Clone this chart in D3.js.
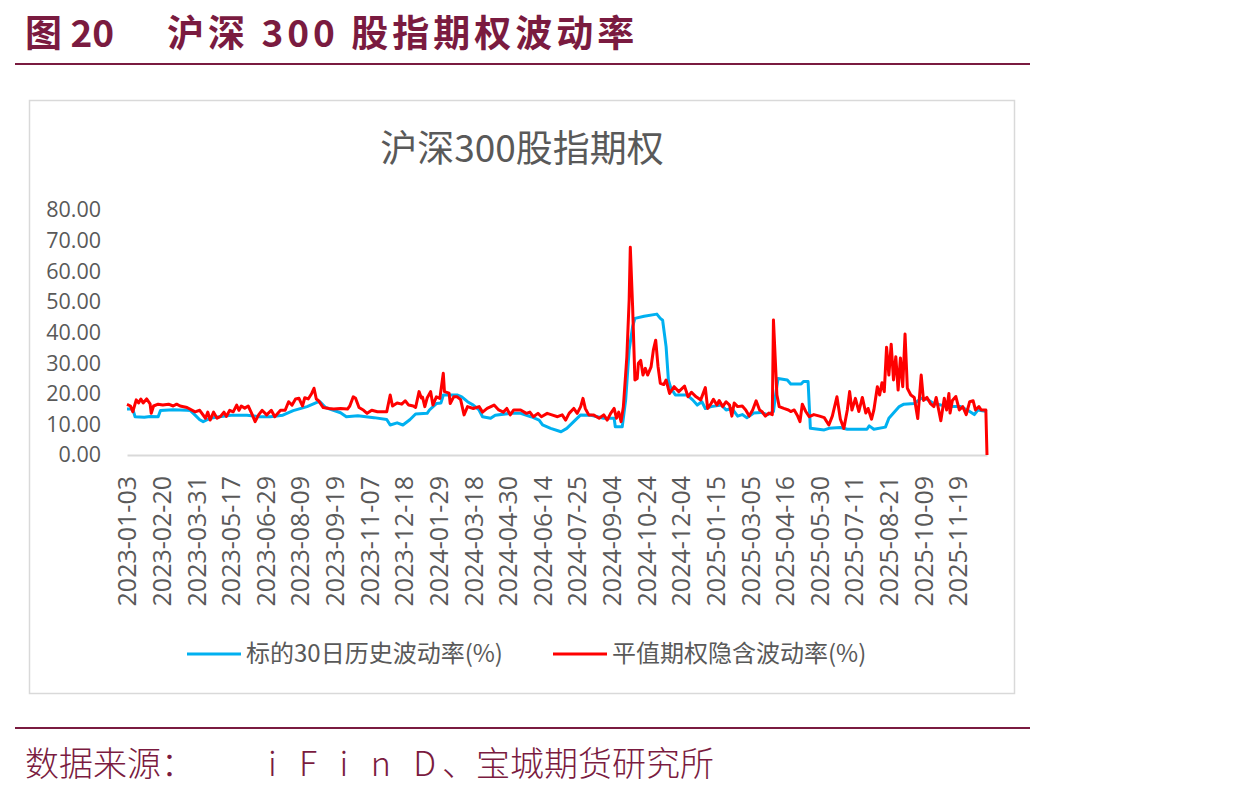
<!DOCTYPE html>
<html>
<head>
<meta charset="utf-8">
<script src="https://cdn.jsdelivr.net/npm/d3@7"></script>
<style>
  body { margin: 0; background: #fff; }
  svg { display: block; }
</style>
</head>
<body>
<svg width="1260" height="796"></svg>
<script>
// x tick labels, one every 30 trading days
const xTickLabels = [
  "2023-01-03", "2023-02-20", "2023-03-31", "2023-05-17", "2023-06-29",
  "2023-08-09", "2023-09-19", "2023-11-07", "2023-12-18", "2024-01-29",
  "2024-03-18", "2024-04-30", "2024-06-14", "2024-07-25", "2024-09-04",
  "2024-10-24", "2024-12-04", "2025-01-15", "2025-03-05", "2025-04-16",
  "2025-05-30", "2025-07-11", "2025-08-21", "2025-10-09", "2025-11-19"
];
const tickStep = 30;
const nDays = 746;
const yTicks = [0, 10, 20, 30, 40, 50, 60, 70, 80];

// [trading day index, value]
const histVol = [
  [0,15],[5,15],[7,12.5],[15,12.3],[20,12.6],[27,12.5],[29,14.5],[40,14.8],[52,14.6],[55,14.5],
  [59,13],[63,11.5],[66,10.9],[72,12],[80,12.5],[90,13],[104,13],[115,12.5],[124,12.5],[135,13],
  [144,14.5],[156,15.8],[164,17.1],[167,17.5],[172,15.5],[185,13.8],[190,12.5],[200,12.8],[214,12.2],
  [225,11.6],[228,9.8],[234,10.5],[239,9.8],[245,11.5],[250,13.4],[260,13.6],[262,14.7],[268,16.8],
  [272,17],[274,19.6],[286,19.6],[290,19],[295,17.4],[300,16.3],[305,14.7],[308,12.5],[315,12],
  [319,13],[332,13.6],[341,13.6],[350,12.5],[357,11.4],[360,9.8],[367,8.7],[376,7.6],[381,8.7],
  [387,10.9],[393,13.1],[402,13],[413,12],[422,12],[423,9.2],[429,9.2],[432,18],[435,34.3],
  [438,41.9],[440,44.6],[448,45.3],[459,46],[462,44.6],[464,44],[467,35.4],[469,24.5],[471,22],
  [475,19.6],[485,19.6],[490,18],[494,16.3],[498,17.4],[501,15.2],[506,15.8],[515,16.3],[519,14.7],
  [524,15.2],[529,12.7],[533,13.2],[537,12.2],[543,13.7],[549,13.9],[555,13.2],[560,14.2],[562,20],
  [564,25],[572,24.5],[575,23.2],[584,23.2],[586,24],[590,24],[592,8.7],[604,8.2],[608,8.7],
  [618,9],[624,8.4],[641,8.4],[643,9.5],[647,8.4],[657,9.1],[660,12],[664,13.7],[669,15.8],
  [673,16.6],[682,16.8],[688,18.5],[693,18.2],[699,16.8],[705,16.3],[714,15.8],[722,15.8],
  [728,14.7],[734,13.2],[737,14.7],[745,14.2]
];

const impliedVol = [
  [0,16.5],[3,16],[5,14.1],[8,18],[10,17],[12,18.3],[14,17],[17,18.3],[20,16.7],[21,13.6],
  [23,16],[27,16.6],[31,16.3],[36,16.6],[40,16],[43,16.6],[46,16],[52,15.5],[59,14.1],[63,14.6],
  [68,12],[70,14],[72,11.4],[75,14],[78,12],[81,12.6],[84,14],[86,12.6],[89,14.6],[92,14.1],
  [95,16.3],[97,14.6],[99,16],[102,15.3],[105,16],[108,13.6],[111,10.9],[114,13.1],[117,14.6],
  [121,13.1],[125,14.6],[128,12.5],[133,14.6],[137,14.6],[140,17.4],[143,16.3],[146,18.3],
  [149,18.5],[152,16],[154,18.7],[157,18.3],[160,20.1],[162,21.8],[164,18.3],[166,17.7],
  [170,15.5],[175,15.2],[179,15],[185,15.2],[191,15],[193,16],[196,19],[198,18.5],[201,15.5],
  [205,14.6],[208,13.6],[212,14.6],[217,14.1],[219,14.1],[225,14.1],[228,19.6],[230,16],[234,17],
  [238,16.6],[241,17.7],[244,16.3],[248,16],[250,15.5],[253,20.7],[255,18.6],[256,18.9],[258,15.8],
  [260,18.6],[263,20.7],[265,16.3],[268,19],[271,18.5],[274,26.7],[275,20.7],[279,20.2],[280,16.8],
  [283,19],[286,19],[289,18.1],[292,13.1],[295,15.8],[300,15.2],[305,15.8],[308,14],[312,15.2],
  [318,16.3],[322,14.7],[326,14],[329,15.2],[332,13.1],[335,14.7],[341,14.7],[346,13.6],[349,14],
  [352,12.5],[356,13.6],[359,12.5],[364,13.6],[368,13.1],[373,12.5],[377,13.1],[380,11.4],
  [383,13.6],[387,15.2],[390,13.6],[393,15.8],[395,18.5],[397,15.2],[400,13.1],[404,13.1],[409,12],
  [413,13.1],[416,11.4],[419,13.6],[422,15.2],[424,12],[426,14],[428,10.9],[430,15.8],[433,32],
  [435,50.6],[436,67.8],[438,48.4],[440,24.5],[442,25],[443,30],[445,30.9],[447,26.1],[449,28.3],
  [451,26.1],[454,28.8],[456,34.3],[458,37.5],[460,29],[462,23.4],[465,23],[467,24.5],[470,20.1],
  [474,22.3],[478,20.7],[483,22.5],[486,19],[489,20.5],[493,19],[497,18],[501,22],[503,15.2],
  [506,16.8],[508,18.2],[511,16.3],[513,17.8],[516,15.8],[519,17.4],[522,16.3],[524,12.7],[526,17],
  [529,15.8],[533,16],[536,14.7],[539,12.7],[542,14.7],[545,17.7],[548,14.7],[550,14.2],[553,12.7],
  [556,13.7],[559,13.2],[560,44.1],[562,27.8],[563,19.6],[565,15.8],[569,15.2],[573,14.7],
  [575,14.2],[578,14.7],[581,12.7],[583,10.9],[585,16.6],[588,14.2],[591,12.5],[595,13.2],
  [600,12.7],[604,12.2],[608,9.8],[611,12.7],[615,19],[618,11.7],[621,8.7],[624,14.7],[626,20.7],
  [628,14.7],[631,18.5],[634,14.2],[637,18.8],[640,13.7],[642,15.2],[645,11.7],[647,14.7],
  [650,22.3],[652,19.6],[654,23.6],[656,20.7],[658,35.2],[660,26.1],[662,36.2],[664,24.5],
  [666,32.1],[668,21.2],[670,31.7],[672,22.3],[674,39.5],[676,21.8],[679,19.6],[682,18.8],
  [685,11.9],[688,26.1],[690,17.8],[693,18.8],[696,16.8],[699,15.8],[701,18.8],[705,11.2],
  [708,18.5],[710,14.7],[712,20.1],[713,13.7],[715,17.8],[718,19.1],[721,14.7],[724,15.8],
  [727,13.2],[730,17.4],[733,17.7],[735,14.7],[738,15.8],[740,14.7],[744,14.7],[745,0]
];

const seriesNames = ["标的30日历史波动率(%)", "平值期权隐含波动率(%)"];
const colors = { hist: "#00B0F0", implied: "#FF0000" };
const maroon = "#7A1B40";
const grey = "#595959";
const cjk = "'Noto Sans CJK SC', sans-serif";

const svg = d3.select("svg");

// header and footer
svg.append("text").attr("x", 25).attr("y", 47)
  .style("font-family", cjk).style("font-size", "37px").style("font-weight", 700)
  .style("fill", maroon).text("图 20");
svg.append("text").attr("x", 167).attr("y", 47)
  .style("font-family", cjk).style("font-size", "37px").style("font-weight", 700)
  .style("letter-spacing", "4px")
  .style("fill", maroon).text("沪深 300 股指期权波动率");
svg.append("line").attr("x1", 15).attr("x2", 1030).attr("y1", 64).attr("y2", 64)
  .style("stroke", maroon).style("stroke-width", 2);
svg.append("line").attr("x1", 15).attr("x2", 1030).attr("y1", 728).attr("y2", 728)
  .style("stroke", maroon).style("stroke-width", 2);
svg.append("text").attr("x", 25).attr("y", 776)
  .style("font-family", cjk).style("font-size", "34px").style("font-weight", 300)
  .style("fill", maroon).text("数据来源：");
svg.append("text").attr("x", 268).attr("y", 776)
  .attr("textLength", 168).attr("lengthAdjust", "spacing")
  .style("font-family", cjk).style("font-size", "34px").style("font-weight", 300)
  .style("fill", maroon).text("iFinD");
svg.append("text").attr("x", 442).attr("y", 776)
  .style("font-family", cjk).style("font-size", "34px").style("font-weight", 300)
  .style("fill", maroon).text("、宝城期货研究所");

// chart frame
svg.append("rect").attr("x", 29.5).attr("y", 100.5).attr("width", 985).attr("height", 593)
  .style("fill", "#fff").style("stroke", "#D9D9D9").style("stroke-width", 1.5);

svg.append("text").attr("x", 522).attr("y", 162).attr("text-anchor", "middle")
  .style("font-family", cjk).style("font-size", "37px").style("fill", grey)
  .text("沪深300股指期权");

let x = d3.scaleLinear().domain([0, nDays - 1]).range([127, 987]);
let y = d3.scaleLinear().domain([0, 80]).range([455, 210]);

let yAxis = d3.axisLeft(y).tickValues(yTicks).tickFormat(d3.format(".2f"))
  .tickSize(0).tickPadding(0);
let gy = svg.append("g").attr("transform", "translate(101, 0)").call(yAxis);
gy.select(".domain").remove();
gy.selectAll("text").style("font-family", "'Open Sans', sans-serif")
  .style("font-size", "21.5px").style("fill", grey);

let xAxis = d3.axisBottom(x)
  .tickValues(d3.range(0, xTickLabels.length).map(i => i * tickStep))
  .tickFormat((d, i) => xTickLabels[i])
  .tickSize(0).tickSizeOuter(0);
let gx = svg.append("g").attr("transform", "translate(0, 455)").call(xAxis);
gx.select(".domain").style("stroke", "#D9D9D9").style("stroke-width", 2);
gx.selectAll("text")
  .attr("transform", "rotate(-90)")
  .attr("x", -21).attr("y", 0).attr("dy", "0.35em")
  .attr("text-anchor", "end")
  .style("font-family", "'Open Sans', sans-serif")
  .style("font-size", "25px").style("fill", grey);

// lines
let line = d3.line()
  .x(d => x(d[0]))
  .y(d => y(d[1]));

svg.append("path").datum(histVol).attr("d", line)
  .style("fill", "none").style("stroke", colors.hist)
  .style("stroke-width", 3).style("stroke-linejoin", "round");
svg.append("path").datum(impliedVol).attr("d", line)
  .style("fill", "none").style("stroke", colors.implied)
  .style("stroke-width", 3).style("stroke-linejoin", "round");

// legend
const legend = [
  { name: seriesNames[0], color: colors.hist, x: 187 },
  { name: seriesNames[1], color: colors.implied, x: 553 }
];
let lg = svg.append("g").selectAll("g").data(legend).enter().append("g")
  .attr("transform", d => "translate(" + d.x + ", 654)");
lg.append("line").attr("x1", 0).attr("x2", 54)
  .style("stroke", d => d.color).style("stroke-width", 3);
lg.append("text").attr("x", 59).attr("y", 0).attr("dy", "0.35em")
  .style("font-family", cjk).style("font-size", "24px").style("fill", grey)
  .text(d => d.name);
</script>
</body>
</html>
